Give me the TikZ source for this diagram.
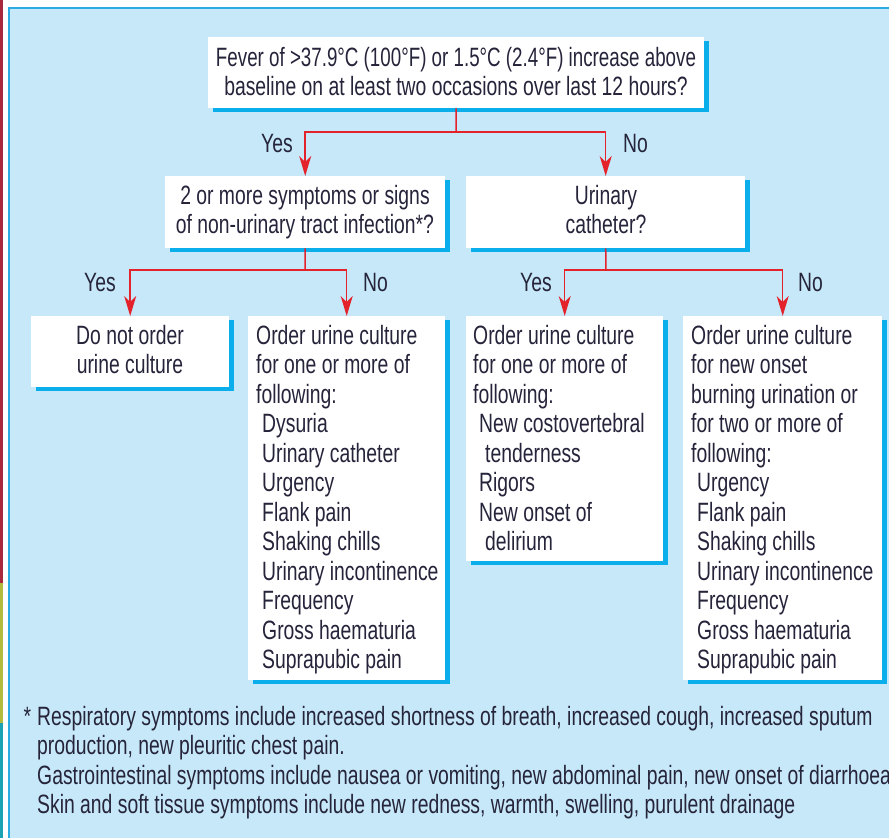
\documentclass[tikz,border=0pt]{standalone}
\usepackage{fontspec}
\usepackage{graphicx}
\setmainfont{Liberation Sans}[FakeStretch=0.73]
\usetikzlibrary{arrows.meta,shadows}
\definecolor{bgblue}{HTML}{C6E8F8}
\definecolor{edgeblue}{HTML}{2AACE2}
\definecolor{shadowblue}{HTML}{0AAEEA}
\definecolor{arrred}{HTML}{E4222B}
\definecolor{txt}{HTML}{26243A}
\definecolor{stripered}{HTML}{A8283C}
\definecolor{stripeyellow}{HTML}{B4BC3C}
\definecolor{stripeteal}{HTML}{1BA2B4}
\newcommand{\fst}{\rule{0pt}{22pt}}
\newcommand{\ind}{\hspace*{6pt}}
\begin{document}
\begin{tikzpicture}[x=1pt,y=-1pt,
  every node/.style={text=txt, font=\fontsize{26.5}{29.5}\selectfont},
  box/.style={draw=none, fill=white, inner sep=0pt, anchor=north west,
    general shadow={fill=shadowblue, shadow xshift=5pt, shadow yshift=-4pt}},
  ctext/.style={inner sep=0pt, anchor=north, align=center},
  ltext/.style={inner sep=0pt, anchor=north west, align=left},
  lbl/.style={inner sep=0pt, anchor=base west},
  conn/.style={draw=arrred, line width=1.5pt},
  arr/.style={conn, -{Stealth[length=20pt,width=12pt,inset=6pt]}}]
\useasboundingbox (0,0) rectangle (889,838);
\clip (0,0) rectangle (889,838);
\fill[white] (0,0) rectangle (889,838);
\fill[stripered] (0,0) rectangle (3,583);
\fill[stripeyellow] (0,583) rectangle (3,723);
\fill[stripeteal] (0,723) rectangle (3,838);
\fill[bgblue] (9,8) rectangle (889,838);
\draw[edgeblue, line width=2pt] (9,838) -- (9,7.5) -- (889,7.5);

% boxes
\node[box, minimum width=496pt, minimum height=71pt] (top) at (208,37) {};
\node[box, minimum width=280pt, minimum height=72pt] (q1) at (165,176) {};
\node[box, minimum width=279pt, minimum height=72pt] (q2) at (466,176) {};
\node[box, minimum width=198pt, minimum height=71pt] (b1) at (31,316) {};
\node[box, minimum width=197pt, minimum height=364pt] (b2) at (248,316) {};
\node[box, minimum width=197pt, minimum height=245pt] (b3) at (466,316) {};
\node[box, minimum width=199pt, minimum height=364pt] (b4) at (683,316) {};

% texts
\node[ctext] (toptext) at (456,44) {\fst\scalebox{0.97}[1]{Fever of >37.9°C (100°F) or 1.5°C (2.4°F) increase above}\\baseline on at least two occasions over last 12 hours?};
\node[ctext] (q1text) at (305,182) {\fst 2 or more symptoms or signs\\of non-urinary tract infection*?};
\node[ctext] (q2text) at (606,182) {\fst Urinary\\catheter?};
\node[ctext] (b1text) at (130,322) {\fst Do not order\\urine culture};
\node[ltext] (b2text) at (256,322) {\fst Order urine culture\\for one or more of\\following:\\\ind Dysuria\\\ind Urinary catheter\\\ind Urgency\\\ind Flank pain\\\ind Shaking chills\\\ind Urinary incontinence\\\ind Frequency\\\ind Gross haematuria\\\ind Suprapubic pain};
\node[ltext] (b3text) at (473,322) {\fst Order urine culture\\for one or more of\\following:\\\ind New costovertebral\\\ind\ind tenderness\\\ind Rigors\\\ind New onset of\\\ind\ind delirium};
\node[ltext] (b4text) at (691,322) {\fst Order urine culture\\for new onset\\burning urination or\\for two or more of\\following:\\\ind Urgency\\\ind Flank pain\\\ind Shaking chills\\\ind Urinary incontinence\\\ind Frequency\\\ind Gross haematuria\\\ind Suprapubic pain};

% labels
\node[lbl] (y1) at (261,152) {Yes};
\node[lbl] (n1) at (623,152) {No};
\node[lbl] (y2) at (84,291) {Yes};
\node[lbl] (n2) at (363,291) {No};
\node[lbl] (y3) at (520,291) {Yes};
\node[lbl] (n3) at (798,291) {No};

% connectors
\coordinate (j0) at (456,132);
\coordinate (j1) at (305,270);
\coordinate (j2) at (606,270);
\draw[conn] (top.south) -- (j0);
\draw[arr] (j0) -| (q1.north);
\draw[arr] (j0) -| (q2.north);
\draw[conn] (q1.south) -- (j1);
\draw[arr] (j1) -| (b1.north);
\draw[arr] (j1) -| (b2.north);
\draw[conn] (q2.south) -- (j2);
\draw[arr] (j2) -| (b3.north);
\draw[arr] (j2) -| (b4.north);

% footnote
\node[ltext] (foot) at (37,703) {\fst\llap{*\hspace{6pt}}Respiratory symptoms include increased shortness of breath, increased cough, increased sputum\\production, new pleuritic chest pain.\\Gastrointestinal symptoms include nausea or vomiting, new abdominal pain, new onset of diarrhoea\\Skin and soft tissue symptoms include new redness, warmth, swelling, purulent drainage};
\end{tikzpicture}
\end{document}
